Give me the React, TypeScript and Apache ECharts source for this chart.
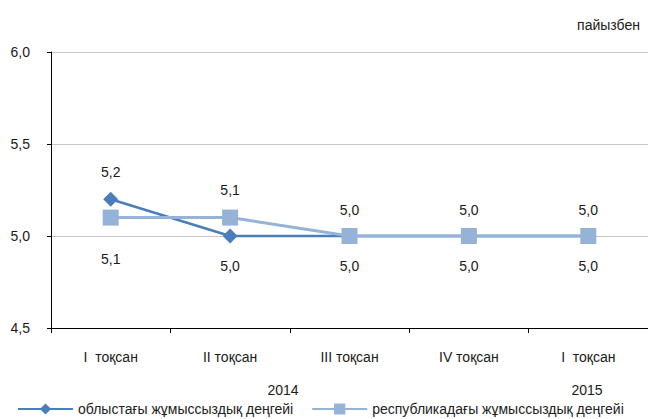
import React, { useEffect, useRef } from "react";
import * as echarts from "echarts";

const categories = ["I  тоқсан", "II тоқсан", "III тоқсан", "IV тоқсан", "I  тоқсан"];
const years = [
  { text: "2014", x: 283 },
  { text: "2015", x: 587 },
];
const regional = [5.2, 5.0, 5.0, 5.0, 5.0];
const national = [5.1, 5.1, 5.0, 5.0, 5.0];
const regionalLabelPos = ["top", "bottom", "bottom", "bottom", "bottom"];
const nationalLabelPos = ["bottom", "top", "top", "top", "top"];
const seriesNames = ["облыстағы жұмыссыздық деңгейі", "республикадағы жұмыссыздық деңгейі"];
const unitLabel = "пайызбен";

const fmt = (v: number) => v.toFixed(1).replace(".", ",");
const FONT = "'Liberation Sans', Arial, sans-serif";

export default function App() {
  const ref = useRef<HTMLDivElement>(null);
  useEffect(() => {
    if (!ref.current) return;
    const chart = echarts.init(ref.current, null, { renderer: "svg" });
    const labelFor = (pos: string, up: number, down: number) => ({
      show: true,
      position: pos,
      distance: pos === "top" ? up : down,
      formatter: (p: any) => fmt(p.value),
      color: "#1a1a1a",
      fontSize: 14,
      fontFamily: FONT,
    });
    chart.setOption({
      animation: false,
      textStyle: { fontFamily: FONT },
      grid: { left: 51, right: -3, top: 52, bottom: 91, containLabel: false },
      legend: {
        left: 17,
        top: 402,
        padding: 0,
        itemWidth: 55,
        itemHeight: 14,
        itemGap: 18,
        textStyle: { fontSize: 14, lineHeight: 14, color: "#222", fontFamily: FONT },
        data: seriesNames,
      },
      xAxis: {
        type: "category",
        data: categories,
        boundaryGap: true,
        axisLine: { lineStyle: { color: "#000", width: 1 } },
        axisTick: { show: true, length: 5, lineStyle: { color: "#000" } },
        axisLabel: { margin: 22, fontSize: 14, color: "#1a1a1a", fontFamily: FONT },
      },
      yAxis: {
        type: "value",
        min: 4.5,
        max: 6.0,
        interval: 0.5,
        axisLine: { show: true, lineStyle: { color: "#000", width: 1 } },
        axisTick: { show: true, length: 4, lineStyle: { color: "#000" } },
        axisLabel: { margin: 21, fontSize: 14, color: "#1a1a1a", fontFamily: FONT, formatter: fmt },
        splitLine: { show: true, lineStyle: { color: "#C8C8C8", width: 1 } },
      },
      graphic: [
        {
          type: "text",
          right: 8,
          top: 18,
          style: { text: unitLabel, fontSize: 14, fill: "#1a1a1a", fontFamily: FONT },
        },
        ...years.map((y) => ({
          type: "text",
          x: y.x,
          y: 390,
          style: {
            text: y.text,
            fontSize: 14,
            fill: "#1a1a1a",
            fontFamily: FONT,
            align: "center",
            verticalAlign: "middle",
          },
        })),
      ],
      series: [
        {
          name: seriesNames[0],
          type: "line",
          data: regional.map((v, i) => ({ value: v, label: labelFor(regionalLabelPos[i], 13, 15) })),
          symbol: "diamond",
          symbolSize: 15,
          lineStyle: { color: "#4A7EBB", width: 2.5 },
          itemStyle: { color: "#4A7EBB" },
          z: 2,
        },
        {
          name: seriesNames[1],
          type: "line",
          data: national.map((v, i) => ({
            value: v,
            label: labelFor(nationalLabelPos[i], i === 1 ? 13 : 11, 26),
          })),
          symbol: "rect",
          symbolSize: 16,
          lineStyle: { color: "#95B3D7", width: 3 },
          itemStyle: { color: "#95B3D7" },
          z: 3,
        },
      ],
    });
    return () => chart.dispose();
  }, []);
  return <div ref={ref} style={{ width: 648, height: 419, position: "absolute", left: 0, top: 0 }} />;
}
